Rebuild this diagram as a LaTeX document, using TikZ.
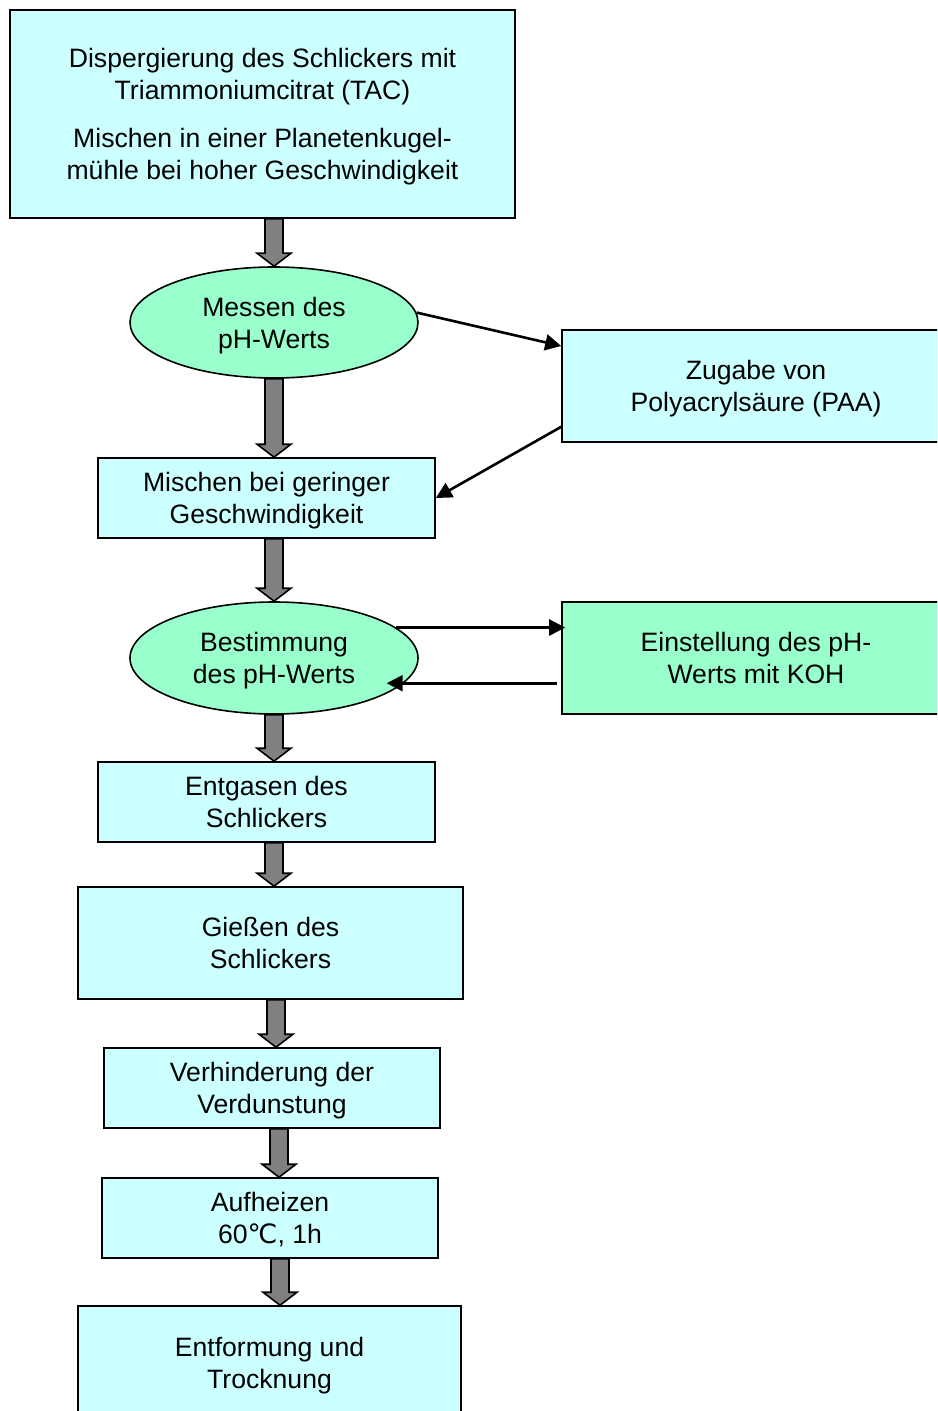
\documentclass[tikz,border=0pt]{standalone}
\usepackage{fontspec}
\setmainfont{Liberation Sans}
\newfontfamily\degfont{DejaVu Sans}
\usetikzlibrary{arrows.meta,calc,shapes.geometric}
\definecolor{boxcyan}{HTML}{CCFFFF}
\definecolor{ellmint}{HTML}{99FFCC}
\definecolor{arrgray}{HTML}{808080}
\tikzstyle{every node}=[font=\fontsize{13.3}{16}\selectfont,align=center,text depth=0pt]
\tikzstyle{procbox}=[draw,line width=0.8pt,fill=boxcyan,rectangle]
\tikzstyle{measure}=[draw,line width=0.8pt,fill=ellmint,ellipse,inner sep=0pt]
\tikzstyle{fatarrow}=[draw=black,line width=0.8pt,fill=arrgray,line join=miter]
\tikzstyle{every edge}=[draw,line width=1.3pt,-{Triangle[length=8pt,width=8pt]}]
\newcommand\fatarrow[3]{%
  \filldraw[fatarrow] let \p1=(#2.south), \p2=(#3.north), \p3=(#1,0) in
    (\x3-4.5pt,\y1) -- (\x3+4.5pt,\y1) -- (\x3+4.5pt,\y2+6.5pt) -- (\x3+8.5pt,\y2+6.5pt)
    -- (\x3,\y2) -- (\x3-8.5pt,\y2+6.5pt) -- (\x3-4.5pt,\y2+6.5pt) -- cycle;}

\begin{document}
\begin{tikzpicture}[x=0.5pt,y=-0.5pt]
  \useasboundingbox (0,0) rectangle (937,1411);
  \clip (0,0) rectangle (937,1411);

  \node[procbox,minimum width=252.5pt,minimum height=104pt] (disp) at (262.5,114)
    {Dispergierung des Schlickers mit\\Triammoniumcitrat (TAC)\\[8pt]Mischen in einer Planetenkugel-\\mühle bei hoher Geschwindigkeit};
  \node[measure,minimum width=144pt,minimum height=55.5pt] (ph1) at (274,322.5) {Messen des\\pH-Werts};
  \node[procbox,minimum width=194pt,minimum height=56pt] (paa) at (756,386) {Zugabe von\\Polyacrylsäure (PAA)};
  \node[procbox,minimum width=168.5pt,minimum height=40pt] (mixlow) at (266.5,498) {Mischen bei geringer\\Geschwindigkeit};
  \node[measure,minimum width=144pt,minimum height=56pt] (ph2) at (274,658) {Bestimmung\\des pH-Werts};
  \node[procbox,fill=ellmint,minimum width=194pt,minimum height=56pt] (koh) at (756,658) {Einstellung des pH-\\Werts mit KOH};
  \node[procbox,minimum width=168.5pt,minimum height=40pt] (degas) at (266.5,802) {Entgasen des\\Schlickers};
  \node[procbox,minimum width=192.5pt,minimum height=56pt] (cast) at (270.5,943) {Gießen des\\Schlickers};
  \node[procbox,minimum width=168pt,minimum height=40pt] (evap) at (272,1088) {Verhinderung der\\Verdunstung};
  \node[procbox,minimum width=168pt,minimum height=40pt] (heat) at (270,1218) {Aufheizen\\60{\degfont ℃}, 1h};
  \node[procbox,minimum width=191.5pt,minimum height=57pt] (demold) at (269.5,1363) {Entformung und\\Trocknung};

  \fatarrow{274}{disp}{ph1}
  \fatarrow{274}{ph1}{mixlow}
  \fatarrow{274}{mixlow}{ph2}
  \fatarrow{274}{ph2}{degas}
  \fatarrow{274}{degas}{cast}
  \fatarrow{276}{cast}{evap}
  \fatarrow{279}{evap}{heat}
  \fatarrow{280}{heat}{demold}

  \coordinate (kohout) at ($(ph2.349.5 -| koh.west)+(-4,0)$);
  \path (ph1.4) edge ([yshift=20pt]paa.west)
    ([yshift=8pt]paa.south west) edge (mixlow.east)
    (ph2.14) edge[shorten >=-2pt] (ph2.14 -| koh.west)
    (kohout) edge[shorten >=-8.5pt] (ph2.349.5);
\end{tikzpicture}
\end{document}
